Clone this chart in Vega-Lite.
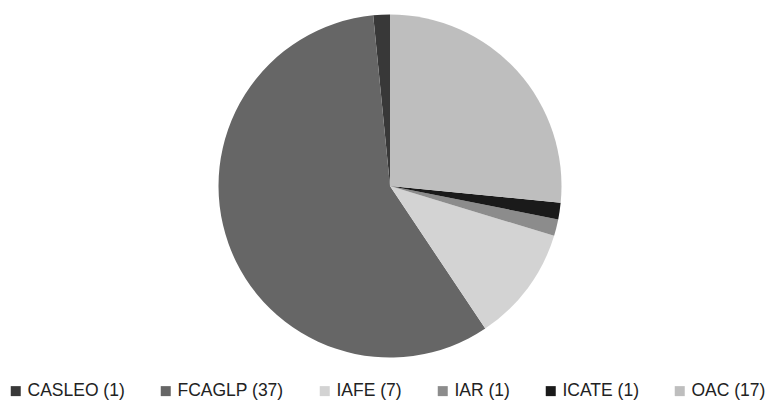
{
  "$schema": "https://vega.github.io/schema/vega-lite/v6.json",
  "autosize": "none",
  "width": 340,
  "height": 348,
  "padding": {"left": 220, "top": 12, "right": 209, "bottom": 40},
  "background": "white",
  "data": {"values": [
    {"institution": "CASLEO (1)", "count": 1},
    {"institution": "FCAGLP (37)", "count": 37},
    {"institution": "IAFE (7)", "count": 7},
    {"institution": "IAR (1)", "count": 1},
    {"institution": "ICATE (1)", "count": 1},
    {"institution": "OAC (17)", "count": 17}
  ]},
  "mark": {"type": "arc", "stroke": null, "radius": 171.5},
  "encoding": {
    "theta": {"field": "count", "type": "quantitative", "stack": true},
    "order": {"field": "institution", "sort": "descending"},
    "color": {
      "field": "institution",
      "type": "nominal",
      "scale": {
        "domain": ["CASLEO (1)", "FCAGLP (37)", "IAFE (7)", "IAR (1)", "ICATE (1)", "OAC (17)"],
        "range": ["#383838", "#666666", "#d3d3d3", "#8c8c8c", "#1a1a1a", "#bebebe"]
      },
      "legend": {
        "title": null,
        "orient": "none",
        "direction": "horizontal",
        "legendX": -213,
        "legendY": 370,
        "symbolType": "square",
        "symbolSize": 100,
        "symbolStrokeWidth": 0,
        "symbolOpacity": 1,
        "labelFont": "Liberation Sans",
        "labelFontSize": 17.5,
        "labelColor": "#222222",
        "labelOffset": 3,
        "columnPadding": 32,
        "labelLimit": 300
      }
    }
  },
  "config": {"view": {"stroke": null}}
}
